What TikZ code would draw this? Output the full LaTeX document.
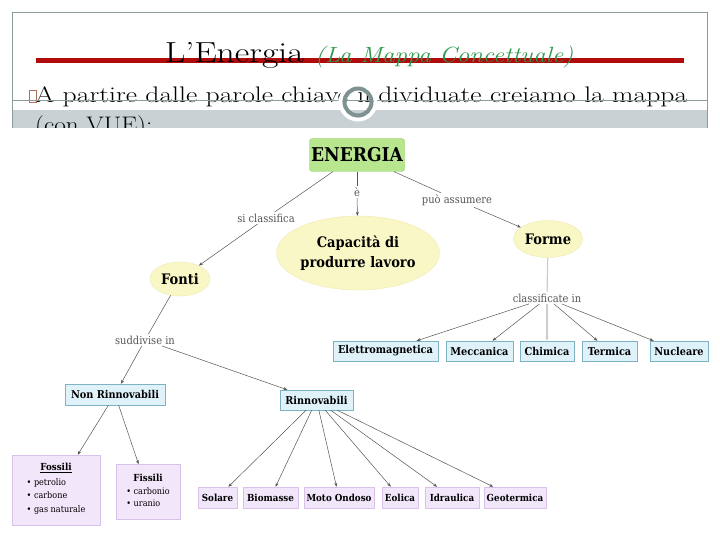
\documentclass[tikz,border=0pt]{standalone}
\usepackage{fontspec}
\usepackage{graphicx}
\usepackage{xcolor}
\usepackage{tikz}
\usetikzlibrary{arrows.meta, positioning, shapes.geometric}
\newfontfamily\mapfont{DejaVu Serif Condensed}
\definecolor{slideframe}{HTML}{8C9C9C}
\definecolor{slideband}{HTML}{C9D1D5}
\definecolor{titlered}{HTML}{B00A0A}
\definecolor{titlegreen}{HTML}{2E9A4E}
\definecolor{ringgray}{HTML}{7E9292}
\definecolor{glyphbrown}{HTML}{B07060}
\definecolor{rootfill}{HTML}{B8E68E}
\definecolor{rootdraw}{HTML}{8CCB5E}
\definecolor{ideafill}{HTML}{FAF7C6}
\definecolor{ideadraw}{HTML}{EEEAB0}
\definecolor{clsfill}{HTML}{DFF2FA}
\definecolor{clsdraw}{HTML}{7FB3C4}
\definecolor{leaffill}{HTML}{F2E6FA}
\definecolor{leafdraw}{HTML}{D8C2EA}
\definecolor{linkgray}{HTML}{555555}

\begin{document}
\begin{tikzpicture}[x=1pt, y=-1pt,
    >={Stealth[length=4pt, width=3pt]},
    root/.style={draw=rootdraw, fill=rootfill, rounded corners=3pt, minimum width=95pt, minimum height=33pt, inner sep=0pt, font=\mapfont\bfseries\fontsize{19}{21}\selectfont},
    idea/.style={ellipse, draw=ideadraw, fill=ideafill, inner sep=0pt, align=center, font=\mapfont\bfseries\fontsize{14.5}{20}\selectfont},
    cls/.style={draw=clsdraw, fill=clsfill, minimum height=20pt, inner sep=0pt, font=\mapfont\bfseries\fontsize{10.8}{12}\selectfont},
    leaf/.style={draw=leafdraw, fill=leaffill, minimum height=21pt, inner sep=0pt, font=\mapfont\bfseries\fontsize{9.7}{11}\selectfont},
    group/.style={draw=leafdraw, fill=leaffill, inner sep=0pt, align=center, font=\mapfont\bfseries\fontsize{9.7}{11}\selectfont},
    lnk/.style={font=\mapfont\fontsize{11}{13}\selectfont, text=linkgray, inner sep=1.5pt},
    rel/.style={linkgray, line width=0.5pt},
    relto/.style={rel, ->},
    faint/.style={black!20, line width=1.2pt}]

  \useasboundingbox (0,0) rectangle (720,540);
  \fill[white] (0,0) rectangle (720,540);

  % Slide header, cut off where the map picture starts.
  \begin{scope}
    \clip (0,0) rectangle (720,128);
    \fill[slideband] (12,110) rectangle (707,128);
    \draw[slideframe, line width=0.8pt] (12,130) -- (12,12) -- (707,12) -- (707,130);
    \draw[titlered, line width=5pt] (36,60.5) -- (684,60.5);
    \node[anchor=base east, inner sep=0pt, font=\fontsize{29}{30}\selectfont] (title) at (304,63)
      {\resizebox{139pt}{\height}{L'Energia}};
    \node[anchor=base west, inner sep=0pt, text=titlegreen, font=\fontsize{22}{24}\selectfont\itshape] (subtitle) at (315,63)
      {\resizebox{258pt}{\height}{(La Mappa Concettuale)}};
    \node[anchor=base west, inner sep=0pt, font=\fontsize{22.5}{26}\selectfont] (intro) at (35,102.7)
      {\resizebox{652pt}{\height}{A partire dalle parole chiave individuate creiamo la mappa}};
    \node[anchor=base west, inner sep=0pt, font=\fontsize{22.5}{26}\selectfont] (intro2) at (35,133)
      {\scalebox{1.12}[1]{(con VUE):}};
    \draw[glyphbrown, line width=1pt] (29.5,91) rectangle (36,102.5);
    \draw[slideframe, line width=0.8pt] (12,100.7) -- (707,100.7);
    \draw[white, line width=4pt] (358,102) circle (17.5);
    \draw[ringgray, line width=4pt] (358,102) circle (13.5);
  \end{scope}

  % Concepts.
  \node[root] (energia) at (357,155) {ENERGIA};
  \node[idea, minimum width=160pt, minimum height=74pt] (capacita) at (358,253) {Capacità di\\produrre lavoro};
  \node[idea, minimum width=60pt, minimum height=34pt] (fonti) at (180,279) {Fonti};
  \node[idea, minimum width=69pt, minimum height=37pt] (forme) at (548,239) {Forme};

  % Linking phrases.
  \node[lnk] (e) at (357,192) {è};
  \node[lnk] (siclass) at (266,218) {si classifica};
  \node[lnk] (puo) at (457,200) {può assumere};
  \node[lnk] (classif) at (547,298) {classificate in};
  \node[lnk] (suddiv) at (145,340) {suddivise in};

  % Forms of energy.
  \foreach \n/\x/\w/\t in {elettro/385.5/105/Elettromagnetica, meccanica/479.5/67/Meccanica,
      chimica/547/54/Chimica, termica/609.5/55/Termica, nucleare/679/58/Nucleare}
    \node[cls, minimum width=\w pt] (\n) at (\x,351) {\t};

  % Sources.
  \node[cls, minimum width=100pt, minimum height=21pt] (nonrinn) at (115,394.5) {Non Rinnovabili};
  \node[cls, minimum width=73pt] (rinn) at (316.5,400) {Rinnovabili};
  \node[group, minimum width=88pt, minimum height=70pt] (fossili) at (56,490)
    {\underline{Fossili}\\[2pt]{\mdseries\fontsize{9}{13.5}\selectfont\begin{tabular}{@{}l@{}}\textbullet\ petrolio\\\textbullet\ carbone\\\textbullet\ gas naturale\end{tabular}}};
  \node[group, minimum width=64pt, minimum height=55pt] (fissili) at (148,492)
    {Fissili\\[3pt]{\mdseries\fontsize{9}{12.5}\selectfont\begin{tabular}{@{}l@{}}\textbullet\ carbonio\\\textbullet\ uranio\end{tabular}}};
  \foreach \n/\x/\w/\t in {solare/217.5/39/Solare, biomasse/270.5/55/Biomasse, ondoso/339/70/Moto Ondoso,
      eolica/400/36/Eolica, idraulica/452/54/Idraulica, geotermica/515/62/Geotermica}
    \node[leaf, minimum width=\w pt] (\n) at (\x,497.5) {\t};

  % Links.
  \draw[rel] (energia) -- (e);
  \draw[relto] (e) -- (capacita);
  \draw[rel] (energia) -- (siclass);
  \draw[relto] (siclass) -- (fonti);
  \draw[rel] (energia) -- (puo);
  \draw[relto] (puo) -- (forme);
  \draw[faint] (forme) -- (classif);
  \draw[faint, ->] (classif) -- (chimica);
  \foreach \t in {elettro, meccanica, termica, nucleare}
    \draw[relto] (classif) -- (\t);
  \draw[rel] (fonti) -- (suddiv);
  \draw[relto] (suddiv) -- (nonrinn);
  \draw[relto] (suddiv) -- (rinn);
  \draw[relto] (nonrinn) -- (fossili);
  \draw[relto] (nonrinn) -- (fissili);
  \foreach \t in {solare, biomasse, ondoso, eolica, idraulica, geotermica}
    \draw[relto] (rinn) -- (\t);
\end{tikzpicture}
\end{document}
